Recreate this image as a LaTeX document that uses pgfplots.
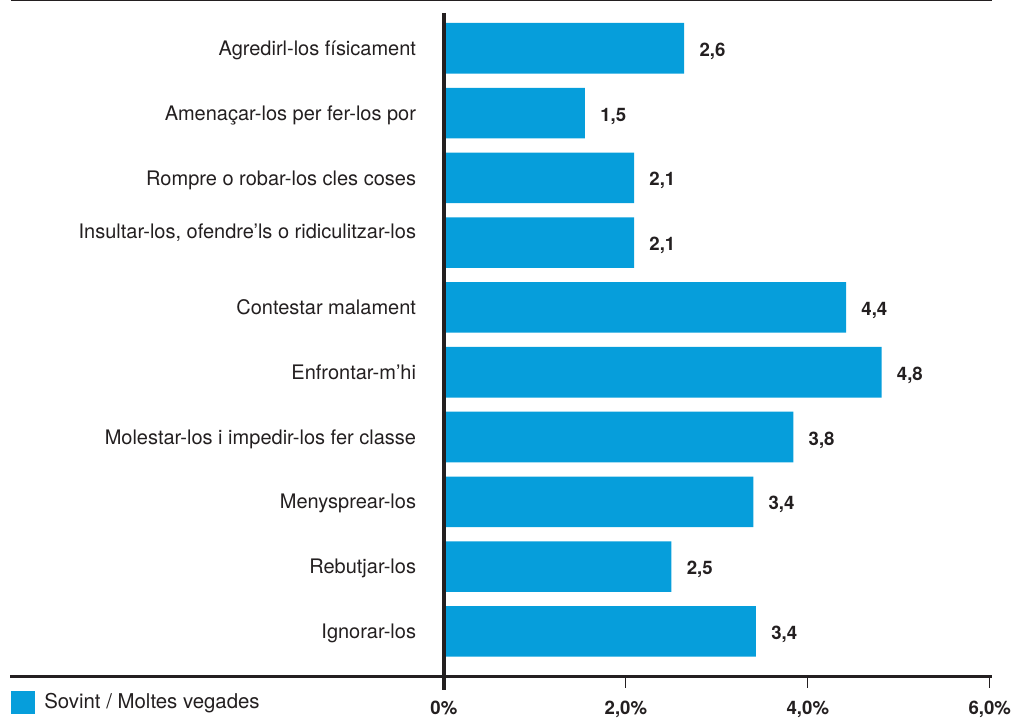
\documentclass[border=0pt]{standalone}
\usepackage{fontspec}
\setmainfont{TeX Gyre Heros}
\usepackage{pgfplots}
\pgfplotsset{compat=1.18}
\definecolor{barblue}{RGB}{6,158,219}
\definecolor{txt}{RGB}{35,31,32}

\pgfplotstableread{
x y label
2.64 9 2,6
1.55 8 1,5
2.09 7 2,1
2.09 6 2,1
4.42 5 4,4
4.81 4 4,8
3.84 3 3,8
3.40 2 3,4
2.50 1 2,5
3.43 0 3,4
}\datatable

\begin{document}
\begin{tikzpicture}
\begin{axis}[
  x=45.5pt, y=32.4pt,
  xmin=0, xmax=6, ymin=-0.6975, ymax=9.545,
  clip=false,
  axis line style={draw=none},
  xbar, bar width=25.3pt,
  xtick={0,2,4,6},
  xticklabels={0\%,{2,0\%},{4,0\%},{6,0\%}},
  xtick pos=left,
  tick align=outside,
  major tick length=5.5pt,
  x tick style={line width=0.6pt, color=txt},
  ytick={0,1,2,3,4,5,6.17,7,8,9},
  yticklabels={Ignorar-los, Rebutjar-los, Menysprear-los, Molestar-los i impedir-los fer classe, Enfrontar-m’hi, Contestar malament, {Insultar-los, ofendre’ls o ridiculitzar-los}, Rompre o robar-los cles coses, Amenaçar-los per fer-los por, Agredirl-los físicament},
  y tick style={draw=none},
  yticklabel style={anchor=base east, font=\fontsize{10}{12}\selectfont, text=txt, inner sep=0pt, xshift=-8.25pt, yshift=-3.6pt},
  xticklabel style={anchor=base, font=\fontsize{9.3}{11}\selectfont\bfseries, text=txt, inner sep=0pt, yshift=-13.65pt},
  nodes near coords,
  point meta=explicit symbolic,
  nodes near coords style={anchor=west, inner sep=0pt, xshift=7.5pt, yshift=-1.5pt, font=\fontsize{9.3}{11}\selectfont\bfseries, text=txt},
  legend style={draw=none, fill=none, at={(axis cs:-4.758,-1.103)}, anchor=west, inner sep=0pt, font=\fontsize{10.2}{12}\selectfont, text=txt, legend cell align=left, /tikz/every odd column/.append style={column sep=2.5pt}},
  legend image code/.code={\fill[barblue] (0pt,-5.8pt) rectangle (12pt,5.8pt);},
]
\addplot[fill=barblue, draw=none] table[x=x, y=y, meta=label] {\datatable};
\addlegendentry{Sovint / Moltes vegades}
\draw[line width=0.5pt, txt] (axis cs:-4.758,9.735) -- (axis cs:6.022,9.735);
\draw[line width=1.65pt, txt] (axis cs:-4.765,-0.6975) -- (axis cs:6.022,-0.6975);
\draw[line width=1.65pt, txt] (axis cs:0,9.545) -- (axis cs:0,-0.903);
\path (axis cs:-4.879,9.745) rectangle (axis cs:6.231,-1.319);
\end{axis}
\end{tikzpicture}
\end{document}
